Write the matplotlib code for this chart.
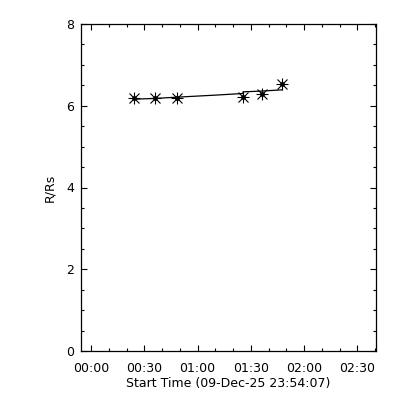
import matplotlib
matplotlib.use("Agg")
import matplotlib.pyplot as plt
import matplotlib.dates as mdates
from datetime import datetime, timedelta

start = datetime(2025, 12, 9, 23, 54, 7)

# measured points
times = ["00:24:00", "00:36:12", "00:48:24", "01:25:36", "01:36:24", "01:47:48"]
r_rs = [6.18, 6.18, 6.18, 6.21, 6.29, 6.54]

# fitted curve as drawn
fit_times = ["00:24:00", "00:36:12", "00:48:24", "01:10:00", "01:25:36", "01:25:36", "01:36:24", "01:47:48"]
fit_r = [6.16, 6.18, 6.21, 6.26, 6.30, 6.34, 6.36, 6.39]


def to_dt(s):
    h, m, sec = [int(v) for v in s.split(":")]
    return datetime(2025, 12, 10, h, m, sec)


t = [to_dt(s) for s in times]
ft = [to_dt(s) for s in fit_times]

fig = plt.figure(figsize=(4, 4), dpi=100)
ax = fig.add_axes([0.202, 0.1225, 0.739, 0.8175])

ax.plot(ft, fit_r, color="black", lw=0.9)
ax.plot(t, r_rs, ls="none", marker="+", ms=9, mew=0.8, color="black")
ax.plot(t, r_rs, ls="none", marker="x", ms=7, mew=0.8, color="black")
ax.plot(t, r_rs, ls="none", marker="o", ms=2.5, color="black")

ax.set_xlim(start, start + timedelta(seconds=10000))
ax.set_ylim(0, 8)

ax.xaxis.set_major_locator(mdates.MinuteLocator(byminute=[0, 30]))
ax.xaxis.set_minor_locator(mdates.MinuteLocator(byminute=range(0, 60, 10)))
ax.xaxis.set_major_formatter(mdates.DateFormatter("%H:%M"))
ax.set_yticks([0, 2, 4, 6, 8])
ax.set_yticks([i * 0.5 for i in range(17)], minor=True)

ax.tick_params(which="both", direction="in", top=True, right=True,
               labelsize=9, width=0.8)
ax.tick_params(which="major", length=4.5)
ax.tick_params(which="minor", length=2.5)
ax.tick_params(axis="x", pad=8)
ax.tick_params(axis="y", pad=5)

for s in ax.spines.values():
    s.set_linewidth(0.9)

ax.set_xlabel("Start Time (09-Dec-25 23:54:07)", fontsize=9, labelpad=1)
ax.set_ylabel("R/Rs", fontsize=9, labelpad=7)

fig.savefig("out.png", dpi=100)
